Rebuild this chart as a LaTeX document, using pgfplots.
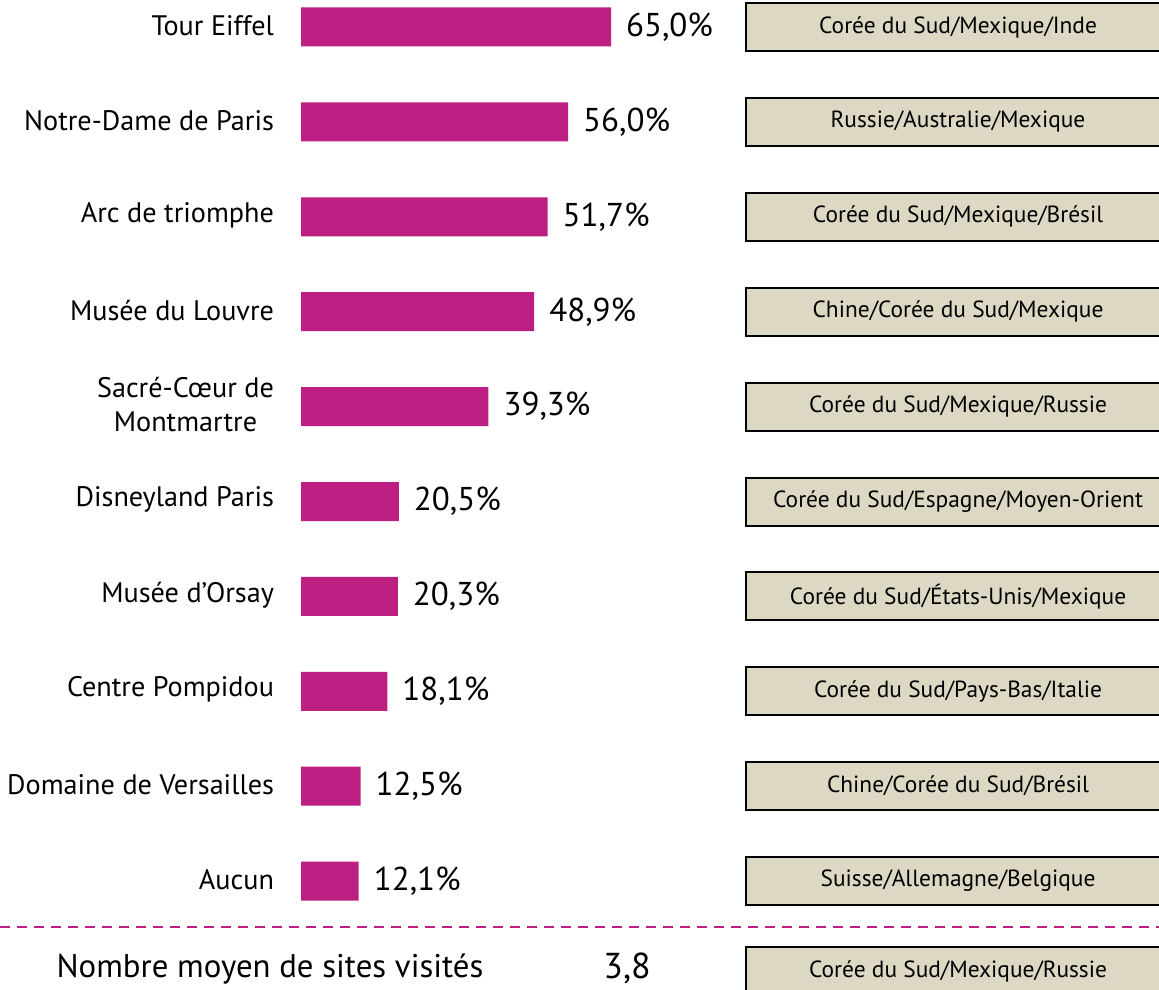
\documentclass[border=0pt]{standalone}
\usepackage{fontspec}
\setmainfont{PT Sans}
\usepackage{pgfplots}
\pgfplotsset{compat=1.18}
\definecolor{barMag}{HTML}{BC1E82}
\definecolor{boxBeige}{HTML}{DDD8C3}
\begin{document}
\begin{tikzpicture}
% 1 px of the reference = 0.5pt
\useasboundingbox (0,0) rectangle (579.5pt,494.5pt);
\clip (0,0) rectangle (579.5pt,494.5pt);
\begin{axis}[
    at={(0,0)}, anchor=south west,
    width=579.5pt, height=494.5pt, scale only axis,
    xmin=-63.12, xmax=179.9,
    ymin=-0.2845, ymax=10.137,
    y dir=reverse,
    axis line style={draw=none},
    xtick=\empty,
    ytick={0,...,9},
    major tick length=0pt,
    yticklabels={Tour Eiffel, Notre-Dame de Paris, Arc de triomphe, Musée du Louvre,
      {Sacré-Cœur de\\Montmartre}, Disneyland Paris, Musée d'Orsay, Centre Pompidou,
      Domaine de Versailles, Aucun},
    yticklabel style={anchor=east, align=center, xshift=140.5pt, yshift=0.8pt, font=\fontsize{14.1}{17}\selectfont},
    clip=false,
]
\addplot[xbar, fill=barMag, draw=none, bar width=0.411,
    point meta=x,
    nodes near coords={\pgfmathprintnumber[fixed, fixed zerofill, precision=1, use comma, assume math mode=true]{\pgfplotspointmeta}\%},
    every node near coord/.append style={font=\fontsize{16.5}{18}\selectfont, anchor=west, xshift=4pt, text=black}]
  coordinates {
    (65.0,0) (56.0,1) (51.7,2) (48.9,3) (39.3,4)
    (20.5,5) (20.3,6) (18.1,7) (12.5,8) (12.1,9)
  };
\addplot[draw=none, mark=none, point meta=explicit symbolic,
    nodes near coords,
    every node near coord/.append style={anchor=center, draw=black, line width=1pt, fill=boxBeige,
      minimum width=212pt, minimum height=24pt, inner sep=0pt, yshift=0pt,
      font=\fontsize{11.7}{14}\selectfont}]
  coordinates {
    (137.76,0) [Corée du Sud/Mexique/Inde]
    (137.76,1) [Russie/Australie/Mexique]
    (137.76,2) [Corée du Sud/Mexique/Brésil]
    (137.76,3) [Chine/Corée du Sud/Mexique]
    (137.76,4) [Corée du Sud/Mexique/Russie]
    (137.76,5) [Corée du Sud/Espagne/Moyen-Orient]
    (137.76,6) [Corée du Sud/États-Unis/Mexique]
    (137.76,7) [Corée du Sud/Pays-Bas/Italie]
    (137.76,8) [Chine/Corée du Sud/Brésil]
    (137.76,9) [Suisse/Allemagne/Belgique]
    (137.76,9.947) [Corée du Sud/Mexique/Russie]
  };
\draw[barMag, line width=1pt, dash pattern=on 5pt off 3.5pt] (axis cs:-63.12,9.484) -- (axis cs:179.9,9.484);
\node[anchor=center, inner sep=0pt, font=\fontsize{16.4}{19}\selectfont] at (axis cs:-6.5,9.93) {Nombre moyen de sites visités};
\node[anchor=center, inner sep=0pt, font=\fontsize{18}{20}\selectfont] at (axis cs:68.36,9.92) {3,8};
\end{axis}
\end{tikzpicture}
\end{document}
